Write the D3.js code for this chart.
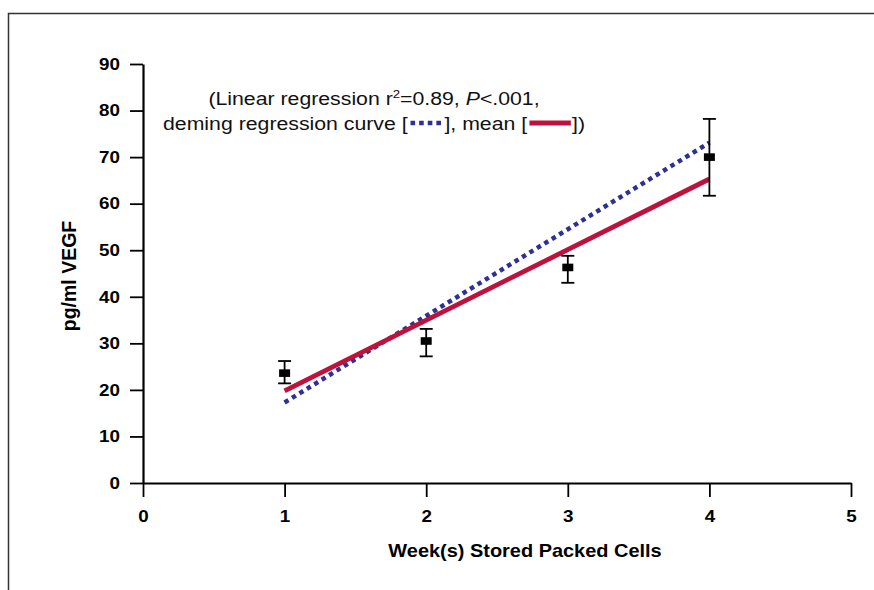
<!DOCTYPE html>
<html>
<head>
<meta charset="utf-8">
<script src="https://cdn.jsdelivr.net/npm/d3@7"></script>
<style>
  html, body { margin: 0; padding: 0; background: #fff; }
  svg { display: block; }
  text { font-family: "Liberation Sans", Arial, sans-serif; }
</style>
</head>
<body>
<svg id="chart" width="874" height="590"></svg>
<script>
// ---- data ----
const weeks = [1, 2, 3, 4];
const meanValues = [23.6, 30.5, 46.3, 70.0];
const upperValues = [26.2, 33.1, 48.8, 78.2];
const lowerValues = [21.4, 27.2, 43.0, 61.7];
const meanLine = [[1, 19.8], [4, 65.3]];
const demingLine = [[1, 17.3], [4, 73.1]];
const xTicks = [0, 1, 2, 3, 4, 5];
const yTicks = [0, 10, 20, 30, 40, 50, 60, 70, 80, 90];
const xTitle = "Week(s) Stored Packed Cells";
const yTitle = "pg/ml VEGF";

const SX = 1.14; // horizontal stretch of the original lettering
const svg = d3.select("#chart");
const x = d3.scaleLinear().domain([0, 5]).range([143, 851]);
const y = d3.scaleLinear().domain([0, 90]).range([483, 64]);

// frame
svg.append("path")
  .attr("d", "M8.5,590 L8.5,13.5 L874,13.5")
  .attr("fill", "none").attr("stroke", "#333").attr("stroke-width", 1.5);

// axes
const yAxis = svg.append("g").attr("transform", "translate(143,0)")
  .call(d3.axisLeft(y).tickValues(yTicks).tickSize(13).tickSizeOuter(0).tickPadding(10).tickFormat(d3.format("d")));
const xAxis = svg.append("g").attr("transform", "translate(0,483)")
  .call(d3.axisBottom(x).tickValues(xTicks).tickSize(14).tickSizeOuter(0).tickPadding(13).tickFormat(d3.format("d")));
[yAxis, xAxis].forEach(g => {
  g.select(".domain").attr("stroke", "#000").attr("stroke-width", 2.2);
  g.selectAll(".tick line").attr("stroke", "#000").attr("stroke-width", 1.8);
  g.selectAll(".tick text").attr("font-family", "'Liberation Sans', Arial, sans-serif")
    .attr("font-size", 16.5).attr("font-weight", "bold").attr("fill", "#000");
});
yAxis.selectAll(".tick text").each(function () {
  const t = d3.select(this);
  const xx = +t.attr("x");
  t.attr("x", 0).attr("transform", `translate(${xx},0) scale(${SX},1)`);
});
xAxis.selectAll(".tick text").attr("transform", `scale(${SX},1)`);

// titles
svg.append("text").attr("transform", `translate(525,557) scale(${SX},1)`).attr("text-anchor", "middle")
  .attr("font-size", 17.5).attr("font-weight", "bold").text(xTitle);
svg.append("text").attr("transform", "translate(76,276) rotate(-90)").attr("text-anchor", "middle")
  .attr("font-size", 19.5).attr("font-weight", "bold").text(yTitle);

// regression lines
const line = d3.line().x(d => x(d[0])).y(d => y(d[1]));
svg.append("path").datum(demingLine).attr("d", line)
  .attr("fill", "none").attr("stroke", "#2e3192").attr("stroke-width", 4.5)
  .attr("stroke-dasharray", "4.5,4.2");
svg.append("path").datum(meanLine).attr("d", line)
  .attr("fill", "none").attr("stroke", "#c0103c").attr("stroke-width", 4.8);

// error bars
const pts = weeks.map((w, i) => ({ w, m: meanValues[i], hi: upperValues[i], lo: lowerValues[i] }));
const eb = svg.append("g").attr("stroke", "#000").attr("stroke-width", 1.8);
pts.forEach(p => {
  const cx = x(p.w);
  eb.append("line").attr("x1", cx).attr("x2", cx).attr("y1", y(p.hi)).attr("y2", y(p.lo));
  eb.append("line").attr("x1", cx - 6.5).attr("x2", cx + 6.5).attr("y1", y(p.hi)).attr("y2", y(p.hi));
  eb.append("line").attr("x1", cx - 6.5).attr("x2", cx + 6.5).attr("y1", y(p.lo)).attr("y2", y(p.lo));
});
svg.append("g").selectAll("rect").data(pts).join("rect")
  .attr("x", d => x(d.w) - 5.5).attr("y", d => y(d.m) - 3.8)
  .attr("width", 11).attr("height", 7.6).attr("fill", "#000");

// annotation
const fs = 18.5;
const ann = svg.append("g").attr("transform", `translate(374,0) scale(1.15,1)`);
const t1 = ann.append("text").attr("x", 0).attr("y", 105).attr("text-anchor", "middle")
  .attr("font-size", fs).attr("fill", "#111");
t1.append("tspan").text("(Linear regression r");
t1.append("tspan").attr("font-size", 11.5).attr("dy", -7).text("2");
t1.append("tspan").attr("dy", 7).text("=0.89, ");
t1.append("tspan").attr("font-style", "italic").text("P");
t1.append("tspan").text("<.001,");

const pieces = [
  { t: "deming regression curve [" },
  { gap: 32, kind: "blue" },
  { t: "], mean [" },
  { gap: 39, kind: "red" },
  { t: "])" }
];
const measure = s => {
  const tmp = ann.append("text").attr("font-size", fs).text(s);
  const w = tmp.node().getComputedTextLength();
  tmp.remove();
  return w;
};
pieces.forEach(p => { p.w = p.t !== undefined ? measure(p.t) : p.gap; });
const total = d3.sum(pieces, p => p.w);
let cur = -total / 2;
const by = 130;
pieces.forEach(p => {
  if (p.t !== undefined) {
    ann.append("text").attr("x", cur).attr("y", by).attr("font-size", fs).attr("fill", "#111").text(p.t);
  } else if (p.kind === "blue") {
    ann.append("line").attr("x1", cur + 2.5).attr("x2", cur + p.w - 1.5).attr("y1", by - 7).attr("y2", by - 7)
      .attr("stroke", "#2e3192").attr("stroke-width", 4.5).attr("stroke-dasharray", "4,3.5");
  } else {
    ann.append("line").attr("x1", cur + 2).attr("x2", cur + p.w - 1).attr("y1", by - 7).attr("y2", by - 7)
      .attr("stroke", "#c0103c").attr("stroke-width", 4.8);
  }
  cur += p.w;
});
</script>
</body>
</html>
